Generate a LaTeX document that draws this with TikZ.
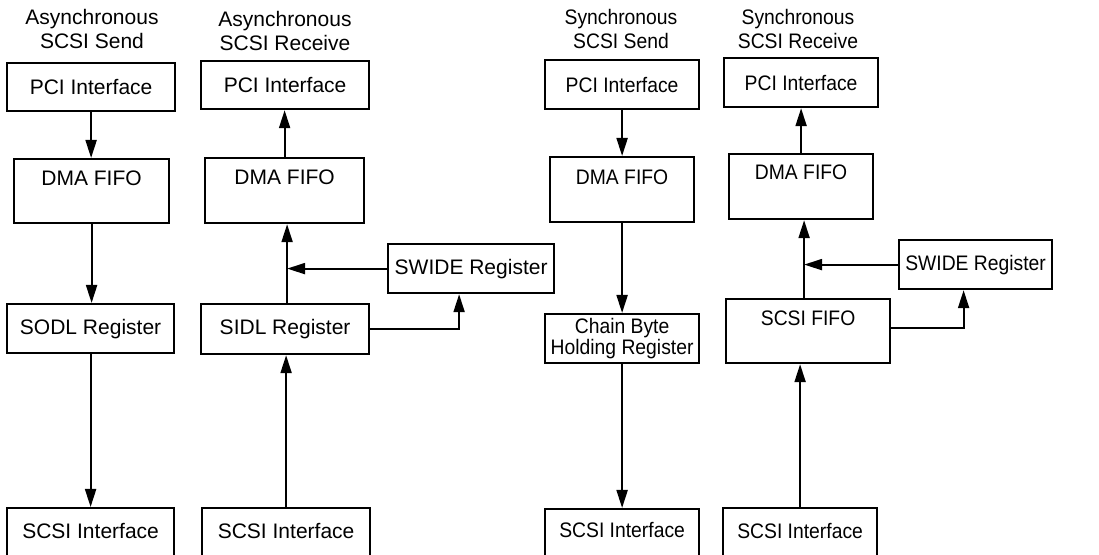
\documentclass[tikz,border=0pt]{standalone}
\usepackage{fontspec}
\setmainfont{Liberation Sans}
\newfontfamily\narrowfont[FakeStretch=0.92]{Liberation Sans}
\usetikzlibrary{arrows.meta,calc}

\begin{document}
\begin{tikzpicture}[x=0.5pt, y=-0.5pt,
	box/.style={draw, line width=1.1pt, anchor=north west, inner sep=0pt,
		align=center, font=\fontsize{10.5}{10.5}\selectfont},
	narrow/.style={font=\fontsize{10.5}{10.5}\narrowfont},
	title/.style={align=center, inner sep=0pt, anchor=base,
		font=\fontsize{10.5}{12}\selectfont},
	narrowtitle/.style={title, font=\fontsize{10.5}{12}\narrowfont},
	arr/.style={line width=1pt, -{Triangle[length=9pt, width=5.5pt]}}]

\useasboundingbox (0, 0) rectangle (1099, 555);

%titles
\node[title] (t1) at (92, 49) {Asynchronous\\SCSI Send};
\node[title] (t2) at (285, 51) {Asynchronous\\SCSI Receive};
\node[narrowtitle] (t3) at (621, 49) {Synchronous\\SCSI Send};
\node[narrowtitle] (t4) at (798, 49) {Synchronous\\SCSI Receive};

%asynchronous send
\node[box, minimum width=84pt, minimum height=24pt] (pci1) at (6, 62) {PCI Interface};
\node[box, minimum width=77.5pt, text height=13pt, text depth=19pt] (dma1) at (13, 158) {DMA FIFO};
\node[box, minimum width=83.5pt, minimum height=24.5pt] (sodl) at (6, 303) {SODL Register};
\node[box, minimum width=83.5pt, text height=15pt, text depth=20pt] (scsi1) at (6, 507) {SCSI Interface};

\draw[arr] (pci1.south) -- (pci1.south |- dma1.north);
\draw[arr] (dma1.south) -- (dma1.south |- sodl.north);
\draw[arr] (sodl.south) -- (sodl.south |- scsi1.north);

%asynchronous receive
\node[box, minimum width=84pt, minimum height=24pt] (pci2) at (200, 60) {PCI Interface};
\node[box, minimum width=79.5pt, text height=13pt, text depth=19.5pt] (dma2) at (204, 157) {DMA FIFO};
\node[box, minimum width=84pt, minimum height=25pt] (sidl) at (200, 303) {SIDL Register};
\node[box, minimum width=83pt, minimum height=24.5pt] (swide1) at (387, 243) {SWIDE Register};
\node[box, minimum width=84pt, text height=15pt, text depth=20pt] (scsi2) at (201, 507) {SCSI Interface};
\coordinate (up1) at ([xshift=1pt]sidl.north);
\coordinate (join1) at (up1 |- swide1.west);

\draw[arr] (dma2.north) -- (dma2.north |- pci2.south);
\draw[arr] (up1) -- (up1 |- dma2.south);
\draw[arr] (swide1.west) -- (join1);
\draw[arr] (sidl.east) -| ([xshift=-6pt]swide1.south);
\draw[arr] (scsi2.north) -- (scsi2.north |- sidl.south);

%synchronous send
\node[box, narrow, minimum width=77pt, minimum height=24.5pt] (pci3) at (544, 59) {PCI Interface};
\node[box, narrow, minimum width=72pt, text height=13.5pt, text depth=19pt] (dma3) at (549, 156) {DMA FIFO};
\node[box, narrow, minimum width=77pt, minimum height=24.5pt] (chain) at (544, 313) {Chain Byte\\Holding Register};
\node[box, narrow, minimum width=77pt, text height=14pt, text depth=20pt] (scsi3) at (544, 508) {SCSI Interface};

\draw[arr] (pci3.south) -- (pci3.south |- dma3.north);
\draw[arr] (dma3.south) -- (dma3.south |- chain.north);
\draw[arr] (chain.south) -- (chain.south |- scsi3.north);

%synchronous receive
\node[box, narrow, minimum width=77pt, minimum height=24.5pt] (pci4) at (723, 57) {PCI Interface};
\node[box, narrow, minimum width=72pt, text height=12.5pt, text depth=20pt] (dma4) at (728, 153) {DMA FIFO};
\node[box, narrow, minimum width=76.5pt, minimum height=24.5pt] (swide2) at (898, 239) {SWIDE Register};
\node[box, narrow, minimum width=82pt, text height=13pt, text depth=19pt] (fifo) at (725, 298) {SCSI FIFO};
\node[box, narrow, minimum width=77pt, text height=15pt, text depth=20pt] (scsi4) at (722, 507) {SCSI Interface};
\coordinate (up2) at ([xshift=-2pt]fifo.north);
\coordinate (join2) at (up2 |- swide2.west);

\draw[arr] (dma4.north) -- (dma4.north |- pci4.south);
\draw[arr] (up2) -- (up2 |- dma4.south);
\draw[arr] (swide2.west) -- (join2);
\draw[arr] ([yshift=1.5pt]fifo.east) -| ([xshift=-6pt]swide2.south);
\draw[arr] (scsi4.north) -- (scsi4.north |- fifo.south);

\end{tikzpicture}
\end{document}
